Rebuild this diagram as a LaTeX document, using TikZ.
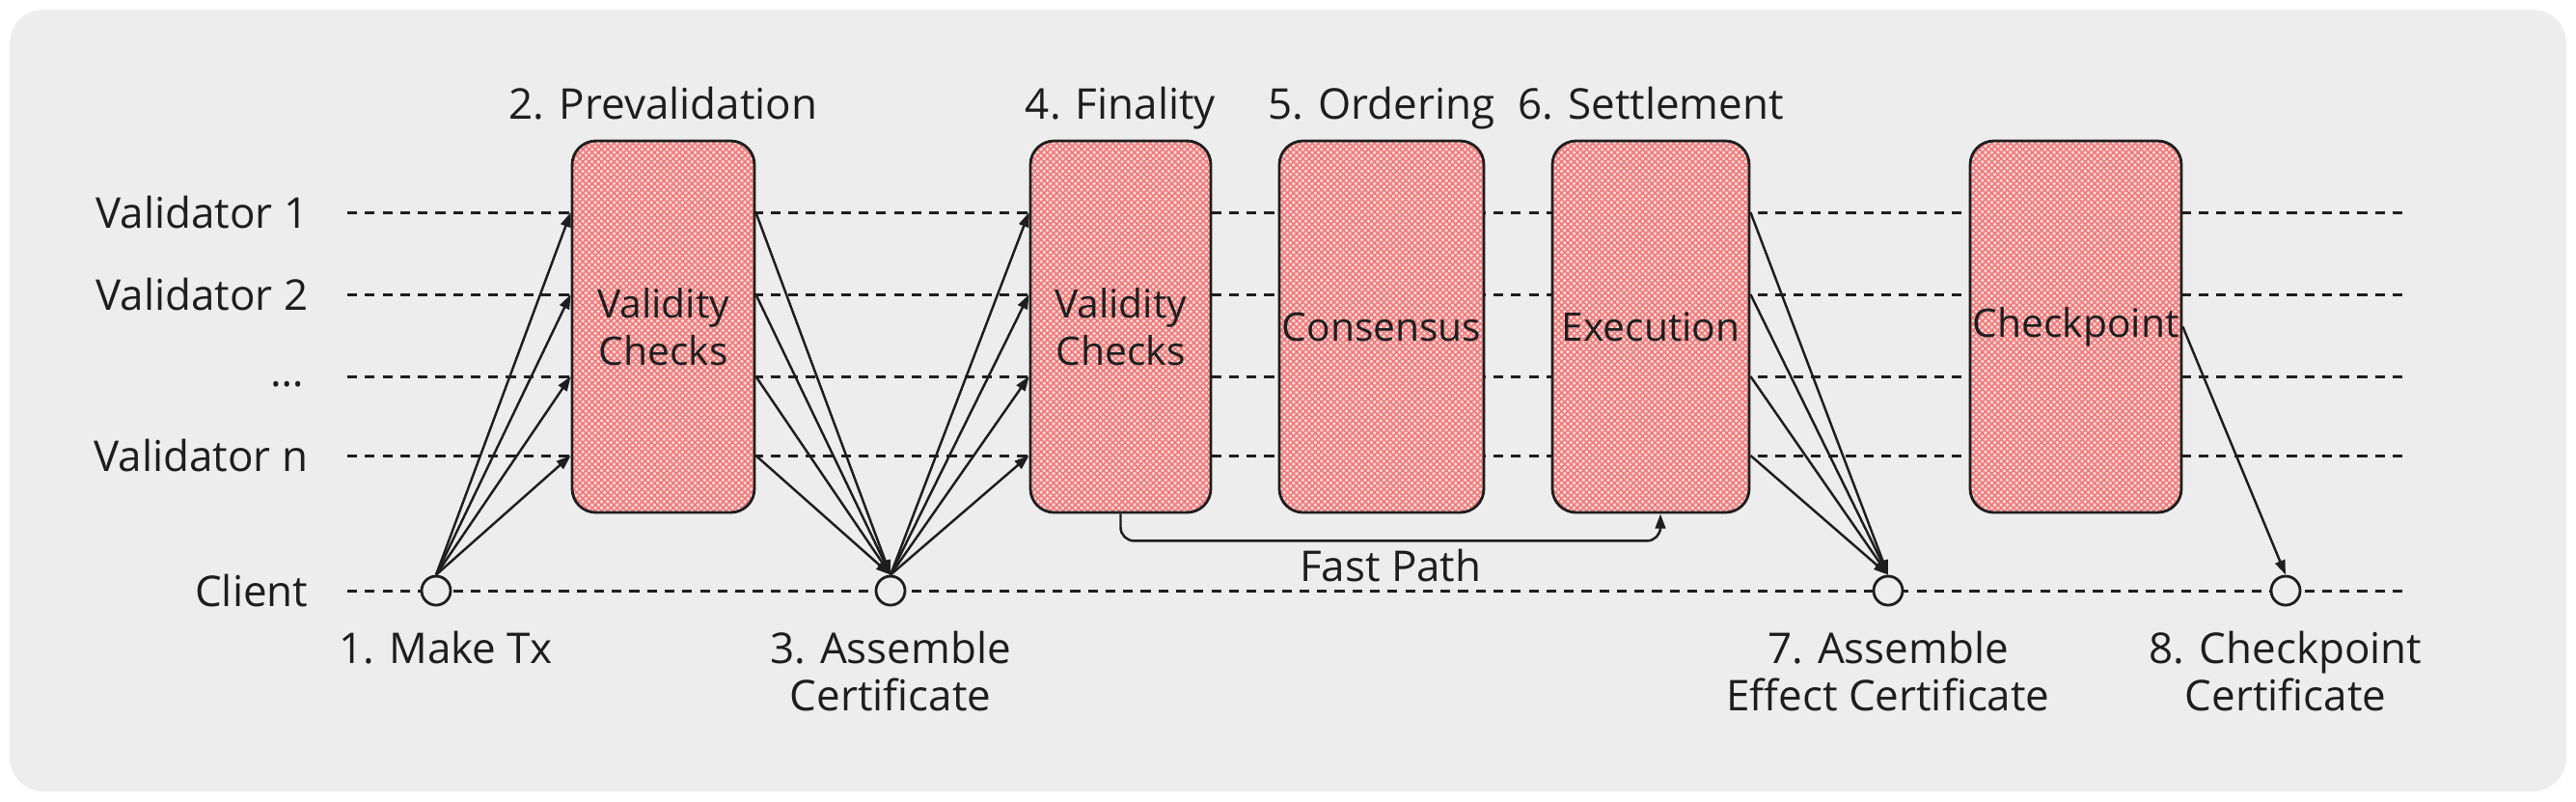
\documentclass[tikz,border=0pt]{standalone}
\usepackage{fontspec}
\setmainfont{Open Sans}
\usetikzlibrary{positioning,arrows.meta,patterns.meta}
\definecolor{ink}{RGB}{30,30,30}
\definecolor{bggray}{RGB}{237,237,237}
\definecolor{stagefill}{RGB}{248,218,218}
\definecolor{hatchred}{RGB}{240,120,120}
\newcommand\diagfont{\fontsize{12.5}{14}\selectfont}
\newcommand\stagefont{\fontsize{11.6}{14}\selectfont}
\tikzstyle{lane}=[draw=ink,line width=0.85pt,dash pattern=on 2.9pt off 2.3pt]
\tikzstyle{lanelabel}=[anchor=east,inner sep=0pt,text=ink,font=\diagfont]
\tikzstyle{stage}=[rectangle,rounded corners=7pt,draw=ink,line width=0.8pt,minimum height=3.85cm,inner sep=0pt,align=center,text=ink,font=\stagefont,
  preaction={fill=stagefill},
  preaction={pattern={Lines[angle=45,distance=1.3pt,line width=0.45pt]},pattern color=hatchred},
  preaction={pattern={Lines[angle=-45,distance=1.3pt,line width=0.45pt]},pattern color=hatchred}]
\tikzstyle{event}=[circle,draw=ink,line width=0.8pt,fill=bggray,minimum size=0.30cm,inner sep=0pt]
\tikzstyle{steplabel}=[inner sep=0pt,text depth=0pt,align=center,text=ink,font=\diagfont]
\tikzstyle{msg}=[draw=ink,line width=0.7pt,-{Triangle[length=4.3pt,width=3pt]}]

\begin{document}
\begin{tikzpicture}[]
\useasboundingbox (0,0) rectangle (26.7,-8.3);
\fill[bggray,rounded corners=0.35cm] (0.10,-0.10) rectangle (26.60,-8.20);
% lanes
  \coordinate (r1) at (3.60,-2.20); \coordinate (e1) at (24.96,-2.20);
  \coordinate (r2) at (3.60,-3.05); \coordinate (e2) at (24.96,-3.05);
  \coordinate (r3) at (3.60,-3.90); \coordinate (e3) at (24.96,-3.90);
  \coordinate (r4) at (3.60,-4.72); \coordinate (e4) at (24.96,-4.72);
  \coordinate (r5) at (3.60,-6.12); \coordinate (e5) at (24.96,-6.12);
  \draw[lane] (r1) -- (e1);
  \draw[lane] (r2) -- (e2);
  \draw[lane] (r3) -- (e3);
  \draw[lane] (r4) -- (e4);
  \draw[lane] (r5) -- (e5);
  \node[lanelabel] (lv1) at (3.20,-2.20) {Validator 1};
  \node[lanelabel] (lv2) at (3.20,-3.05) {Validator 2};
  \node[lanelabel] (lv3) at (3.16,-3.98) {\ldots};
  \node[lanelabel] (lvn) at (3.20,-4.72) {Validator n};
  \node[lanelabel] (lcl) at (3.20,-6.12) {Client};
% stages
  \node[stage,minimum width=1.89cm] (b1) at (6.875,-3.385) {Validity\\Checks};
  \node[stage,minimum width=1.87cm] (b2) at (11.615,-3.385) {Validity\\Checks};
  \node[stage,minimum width=2.12cm] (b3) at (14.32,-3.385) {Consensus};
  \node[stage,minimum width=2.04cm] (b4) at (17.11,-3.385) {Execution};
  \node[stage,minimum width=2.19cm] (b5) at (21.515,-3.385) {Checkpoint};
  \node[steplabel,above=2mm of b1] (t2) {2. Prevalidation};
  \node[steplabel,above=2mm of b2] (t4) {4. Finality};
  \node[steplabel,above=2mm of b3] (t5) {5. Ordering};
  \node[steplabel,above=2mm of b4] (t6) {6. Settlement};
% events
  \node[event] (c1) at (4.52,-6.12) {};
  \node[event] (c2) at (9.23,-6.12) {};
  \node[event] (c3) at (19.57,-6.12) {};
  \node[event] (c4) at (23.69,-6.12) {};
  \node[steplabel,below=2.5mm of c1,xshift=1mm] (s1) {1. Make Tx};
  \node[steplabel,below=2.5mm of c2] (s3) {3. Assemble\\Certificate};
  \node[steplabel,below=2.5mm of c3] (s7) {7. Assemble\\Effect Certificate};
  \node[steplabel,below=2.5mm of c4] (s8) {8. Checkpoint\\Certificate};
% messages
  \path (c1.north) edge[msg] (b1.west |- r1) edge[msg] (b1.west |- r2)
    edge[msg] (b1.west |- r3) edge[msg] (b1.west |- r4);
  \draw[msg] (b1.east |- r1) -- (c2.north);
  \draw[msg] (b1.east |- r2) -- (c2.north);
  \draw[msg] (b1.east |- r3) -- (c2.north);
  \draw[msg] (b1.east |- r4) -- (c2.north);
  \path (c2.north) edge[msg] (b2.west |- r1) edge[msg] (b2.west |- r2)
    edge[msg] (b2.west |- r3) edge[msg] (b2.west |- r4);
  \draw[msg] (b4.east |- r1) -- (c3.north);
  \draw[msg] (b4.east |- r2) -- (c3.north);
  \draw[msg] (b4.east |- r3) -- (c3.north);
  \draw[msg] (b4.east |- r4) -- (c3.north);
  \draw[msg] (b5.east) -- (c4.north);
% fast path
  \draw[msg,rounded corners=4pt] (b2.south) -- ++(0,-0.28)
    -| node[pos=0.25,below=2pt,steplabel] (fp) {Fast Path} ([xshift=1mm]b4.south);
\end{tikzpicture}
\end{document}
